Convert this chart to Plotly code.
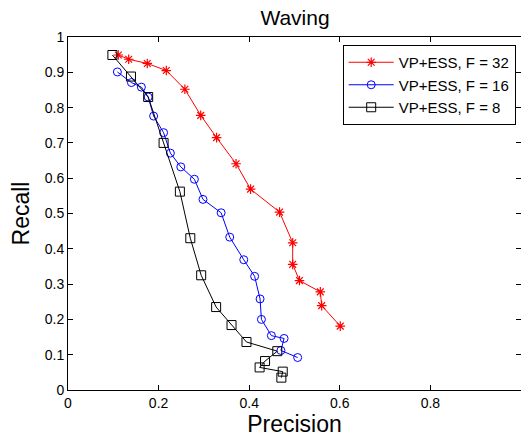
import plotly.graph_objects as go

# F = 32 (red, asterisk)
prec_32 = [0.111, 0.134, 0.175, 0.217, 0.258, 0.293, 0.328, 0.371, 0.403, 0.467,
           0.496, 0.496, 0.511, 0.557, 0.560, 0.601]
rec_32 = [0.949, 0.937, 0.925, 0.905, 0.852, 0.778, 0.715, 0.641, 0.569, 0.504,
          0.417, 0.356, 0.310, 0.278, 0.239, 0.181]

# F = 16 (blue, circle)
prec_16 = [0.109, 0.140, 0.162, 0.177, 0.189, 0.211, 0.226, 0.249, 0.279, 0.298,
           0.338, 0.357, 0.388, 0.412, 0.424, 0.427, 0.449, 0.477, 0.470, 0.507]
rec_16 = [0.901, 0.871, 0.858, 0.830, 0.776, 0.729, 0.671, 0.632, 0.597, 0.540,
          0.502, 0.433, 0.369, 0.322, 0.258, 0.200, 0.154, 0.146, 0.112, 0.092]

# F = 8 (black, square)
prec_8 = [0.098, 0.139, 0.177, 0.211, 0.247, 0.270, 0.294, 0.327, 0.361, 0.394,
          0.462, 0.435, 0.423, 0.474, 0.471]
rec_8 = [0.949, 0.888, 0.830, 0.700, 0.562, 0.430, 0.325, 0.235, 0.184, 0.136,
         0.110, 0.082, 0.064, 0.052, 0.035]

series_names = ["VP+ESS, F = 32", "VP+ESS, F = 16", "VP+ESS, F = 8"]
ticks = [0, 0.1, 0.2, 0.3, 0.4, 0.5, 0.6, 0.7, 0.8, 0.9, 1]
tick_text = ["0", "0.1", "0.2", "0.3", "0.4", "0.5", "0.6", "0.7", "0.8", "0.9", "1"]
xticks = [0, 0.2, 0.4, 0.6, 0.8, 1]
xtick_text = ["0", "0.2", "0.4", "0.6", "0.8", "1"]

FONT = "Liberation Sans, Arial, sans-serif"

fig = go.Figure()
fig.add_trace(go.Scatter(x=prec_32, y=rec_32, mode="lines+markers", name=series_names[0],
                         line=dict(color="#ff0000", width=1),
                         marker=dict(symbol="asterisk-open", size=8, color="#ff0000",
                                     line=dict(color="#ff0000", width=1.2))))
fig.add_trace(go.Scatter(x=prec_16, y=rec_16, mode="lines+markers", name=series_names[1],
                         line=dict(color="#0000ff", width=1),
                         marker=dict(symbol="circle-open", size=8, color="#0000ff",
                                     line=dict(color="#0000ff", width=1))))
fig.add_trace(go.Scatter(x=prec_8, y=rec_8, mode="lines+markers", name=series_names[2],
                         line=dict(color="#000000", width=1),
                         marker=dict(symbol="square-open", size=9, color="#000000",
                                     line=dict(color="#000000", width=1))))

axis_common = dict(showline=True, linecolor="#000000", linewidth=1, mirror="ticks",
                   ticks="inside", ticklen=5, tickcolor="#000000", showgrid=False,
                   zeroline=False, tickfont=dict(family=FONT, size=14, color="#000000"))

fig.update_layout(
    width=521, height=437,
    margin=dict(l=68, r=0, t=37, b=47, autoexpand=False),
    paper_bgcolor="white", plot_bgcolor="white",
    title=dict(text="Waving", x=295 / 521, xanchor="center", y=1 - 18 / 437, yanchor="middle",
               font=dict(family=FONT, size=21, color="#000000")),
    xaxis=dict(range=[0, 1], tickvals=xticks, ticktext=xtick_text,
               title=dict(text="Precision", font=dict(family=FONT, size=23, color="#000000"), standoff=4),
               **axis_common),
    yaxis=dict(range=[0, 1], tickvals=ticks, ticktext=tick_text,
               title=dict(text="Recall", font=dict(family=FONT, size=23, color="#000000"), standoff=8),
               **axis_common),
    legend=dict(x=(515.7 - 68) / 453, xanchor="right", y=(390 - 45) / 353, yanchor="top",
                bordercolor="#000000", borderwidth=1, bgcolor="white",
                font=dict(family=FONT, size=15, color="#000000"),
                itemwidth=45, tracegroupgap=0),
    showlegend=True,
)

fig.write_html("out.html", config={"displayModeBar": False},
               post_script="document.body.style.margin='0';document.body.style.padding='0';")
